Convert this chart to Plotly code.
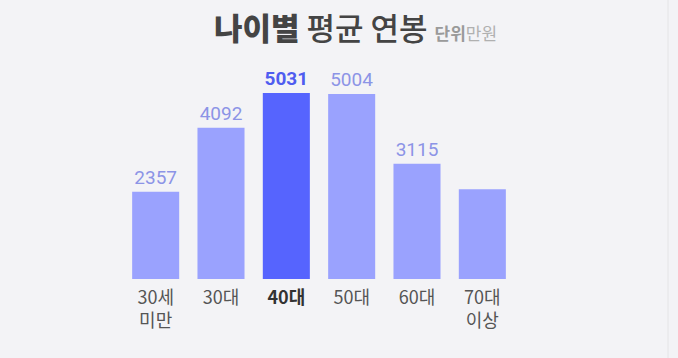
import plotly.graph_objects as go

categories = ["30세<br>미만", "30대", "40대", "50대", "60대", "70대<br>이상"]
values = [2357, 4092, 5031, 5004, 3115, 2430]
value_labels = ["2357", "4092", "<b>5031</b>", "5004", "3115", ""]
highlight = "40대"

light_bar = "#9AA2FE"
dark_bar = "#5664FE"
bar_colors = [dark_bar if c == highlight else light_bar for c in categories]
text_colors = ["#4F5CF0" if c == highlight else "#8C94E6" for c in categories]
tick_text = [
    "<span style='color:#333333'><b>" + c + "</b></span>" if c == highlight else c
    for c in categories
]

L, R, T, B = 123, 163, 60, 79
W, H = 678, 358
ph = H - T - B
pw = W - L - R

fig = go.Figure(
    go.Bar(
        x=categories,
        y=values,
        marker=dict(color=bar_colors, line=dict(width=0)),
        text=value_labels,
        textposition="outside",
        textfont=dict(size=19, color=text_colors, family="Roboto, Noto Sans CJK KR"),
        cliponaxis=False,
        hoverinfo="skip",
    )
)

fig.update_layout(
    width=W,
    height=H,
    margin=dict(l=L, r=R, t=T, b=B),
    paper_bgcolor="#F3F3F6",
    plot_bgcolor="#F3F3F6",
    bargap=0.28,
    showlegend=False,
    font=dict(family="Noto Sans CJK KR", color="#555555"),
    xaxis=dict(
        tickmode="array",
        tickvals=categories,
        ticktext=tick_text,
        tickfont=dict(size=18, color="#555555", family="Noto Sans CJK KR"),
        ticklabelstandoff=6,
        showline=False,
        showgrid=False,
        zeroline=False,
        ticks="",
        fixedrange=True,
    ),
    yaxis=dict(
        range=[0, 5924],
        visible=False,
        showgrid=False,
        zeroline=False,
        fixedrange=True,
    ),
    annotations=[
        dict(
            text="<span style='font-weight:900'>나이별</span> <span style='font-weight:500'>평균 연봉</span> "
            "<span style='font-size:17px;color:#9a9a9a'><b>단위</b></span>"
            "<span style='font-size:17px;color:#b0b0b0'>만원</span>",
            xref="paper",
            yref="paper",
            x=(355 - L) / pw,
            y=1 + (T - 26) / ph,
            xanchor="center",
            yanchor="middle",
            showarrow=False,
            font=dict(size=31, color="#444444", family="Noto Sans CJK KR"),
        )
    ],
    shapes=[
        dict(
            type="line",
            xref="paper",
            yref="paper",
            x0=(668 - L) / pw,
            x1=(668 - L) / pw,
            y0=-B / ph,
            y1=1 + T / ph,
            line=dict(color="#E4E4E6", width=1),
        )
    ],
)

fig.write_html(
    "out.html",
    config={"displayModeBar": False},
    post_script="document.body.style.margin='0';document.body.style.overflow='hidden';",
)
